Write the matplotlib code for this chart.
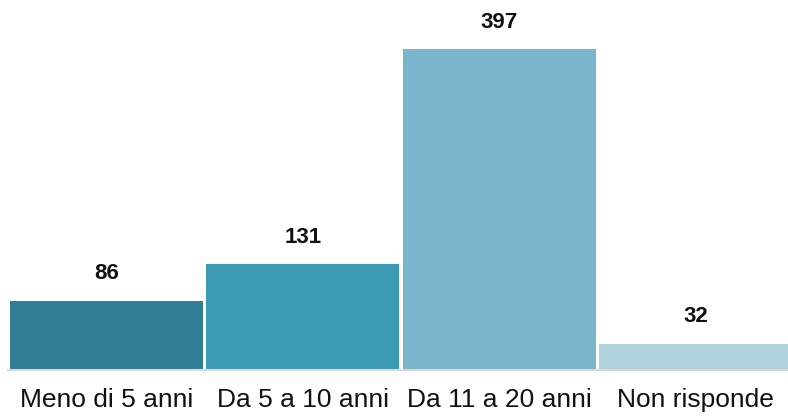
import matplotlib
matplotlib.use("Agg")
import matplotlib.pyplot as plt

categories = ["Meno di 5 anni", "Da 5 a 10 anni", "Da 11 a 20 anni", "Non risponde"]
values = [86, 131, 397, 32]
colors = ["#307f94", "#3d9bb5", "#79b5cb", "#b0d2de"]

plt.rcParams['font.family'] = ['Liberation Sans', 'DejaVu Sans']

W, H = 788, 417
fig = plt.figure(figsize=(W / 100, H / 100), dpi=100)
left, right = 8, 794
bottom, top = 370, 0
ax = fig.add_axes([left / W, (H - bottom) / H, (right - left) / W, (bottom - top) / H])

x = list(range(len(categories)))
ax.bar(x, values, width=0.98, color=colors, zorder=2)
for xi, v in zip(x, values):
    ax.annotate(str(v), (xi, v), xytext=(0, 12), textcoords="offset points",
                ha="center", va="bottom", fontsize=16, fontweight="bold", color="#111111")

ax.set_xlim(-0.5, len(categories) - 0.5)
ax.set_ylim(0, 458)
ax.set_xticks(x)
ax.set_xticklabels(categories, fontsize=19, color="#111111")
ax.tick_params(axis="x", length=0, pad=13)
ax.set_yticks([])
for s in ["top", "right", "left"]:
    ax.spines[s].set_visible(False)
ax.spines["bottom"].set_color("#d9d9d9")
ax.spines["bottom"].set_linewidth(1.5)

fig.savefig("out.png", dpi=100)
